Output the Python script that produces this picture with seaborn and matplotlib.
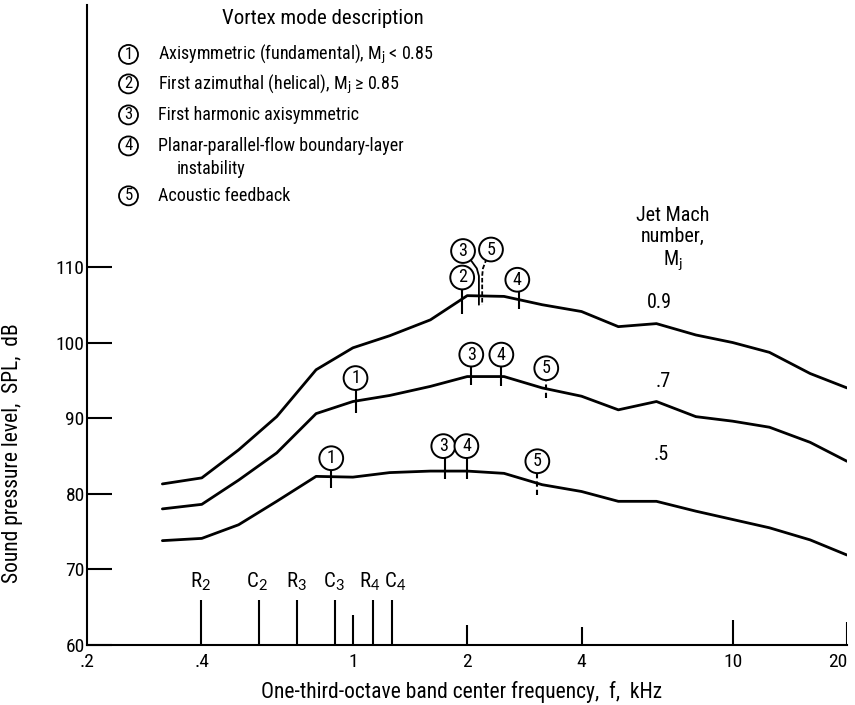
import matplotlib
matplotlib.use("Agg")
import matplotlib.pyplot as plt
import seaborn as sns
import pandas as pd

# one-third-octave band centres, kHz
bands = [0.315, 0.4, 0.5, 0.63, 0.8, 1.0, 1.25, 1.6, 2.0, 2.5, 3.15,
         4.0, 5.0, 6.3, 8.0, 10.0, 12.5, 16.0, 20.0]

# SPL per jet Mach number, dB
spl_09 = [81.3, 82.1, 85.8, 90.2, 96.4, 99.3, 100.9, 103.0, 106.2, 106.1, 105.0,
          104.1, 102.1, 102.5, 101.0, 100.0, 98.7, 95.9, 94.0]
spl_07 = [78.0, 78.6, 81.8, 85.4, 90.6, 92.2, 93.0, 94.2, 95.5, 95.5, 94.0,
          92.9, 91.1, 92.2, 90.2, 89.6, 88.8, 86.8, 84.3]
spl_05 = [73.8, 74.1, 75.9, 79.0, 82.3, 82.2, 82.8, 83.0, 83.0, 82.7, 81.2,
          80.3, 79.0, 79.0, 77.7, 76.6, 75.5, 73.9, 71.9]
mach_labels = ["0.9", ".7", ".5"]
mach_label_pos = [(6.42, 105.3), (6.55, 94.9), (6.48, 85.2)]

# vortex mode markers: label, tick freq, circle freq, circle SPL, tick top, tick bottom, dashed
mode_label = ["2", "4", "1", "3", "4", "5", "1", "3", "4", "5"]
mode_tick_f = [1.94, 2.73, 1.016, 2.05, 2.46, 3.23, 0.877, 1.75, 2.0, 3.06]
mode_circ_f = [1.94, 2.71, 1.016, 2.05, 2.46, 3.23, 0.877, 1.73, 1.99, 3.06]
mode_circ_y = [108.6, 108.3, 95.3, 98.4, 98.4, 96.6, 84.7, 86.3, 86.3, 84.3]
mode_top = [107.3, 107.0, 94.0, 97.1, 97.1, 95.3, 83.4, 85.0, 85.0, 83.2]
mode_bot = [103.8, 104.4, 90.7, 94.4, 94.2, 92.7, 80.7, 81.9, 81.9, 79.9]
mode_dash = [False, False, False, False, False, True, False, False, False, True]

# the two crowded modes at the 0.9 peak use bent leaders
lead_label = ["3", "5"]
lead_circ = [(1.95, 112.1), (2.31, 112.3)]
lead_f = [[2.03, 2.12, 2.147, 2.147], [2.25, 2.20, 2.19, 2.19]]
lead_y = [[111.1, 109.8, 108.8, 105.0], [111.1, 109.8, 108.8, 105.0]]
lead_dash = [False, True]

# resonance / cutoff frequency markers
rc_names = [r"R$_2$", r"C$_2$", r"R$_3$", r"C$_3$", r"R$_4$", r"C$_4$"]
rc_freq = [0.399, 0.565, 0.711, 0.897, 1.13, 1.265]
rc_top = 66.0
rc_label_f = [0.397, 0.56, 0.711, 0.89, 1.105, 1.29]
grid_f = [1.0, 2.0, 4.0, 10.0, 20.0]
grid_top = [64.0, 62.6, 62.4, 63.3, 63.0]

legend_title = "Vortex mode description"
legend_nums = ["1", "2", "3", "4", "5"]
legend_text = ["Axisymmetric (fundamental), M$_j$ < 0.85",
               "First azimuthal (helical), M$_j$ ≥ 0.85",
               "First harmonic axisymmetric",
               "Planar-parallel-flow boundary-layer",
               "Acoustic feedback"]
legend_y = [138.1, 134.2, 130.1, 126.0, 119.4]
legend_cont = "instability"
legend_cont_y = 123.0

xticks = [0.2, 0.4, 1, 2, 4, 10, 20]
xtick_labels = [".2", ".4", "1", "2", "4", "10", "20"]
yticks = [60, 70, 80, 90, 100, 110]

sns.set_style("ticks")
plt.rcParams["font.family"] = ["Liberation Sans Narrow", "Roboto Condensed", "Lato", "DejaVu Sans"]
plt.rcParams["mathtext.fontset"] = "custom"
plt.rcParams["mathtext.rm"] = "Lato"
plt.rcParams["mathtext.it"] = "Lato"
for k in ["text.color", "axes.labelcolor", "xtick.color", "ytick.color", "axes.edgecolor"]:
    plt.rcParams[k] = "black"

df = pd.DataFrame({
    "f": bands * 3,
    "spl": spl_09 + spl_07 + spl_05,
    "mach": ["0.9"] * len(bands) + ["0.7"] * len(bands) + ["0.5"] * len(bands),
})

fig = plt.figure(figsize=(8.55, 7.05), dpi=100)
ax = fig.add_axes([0.1023, 0.0851, 0.8883, 0.9085])

sns.lineplot(data=df, x="f", y="spl", hue="mach", palette=["black"] * 3,
             estimator=None, sort=False, linewidth=2.0, legend=False, ax=ax)

ax.set_xscale("log")
ax.set_xlim(0.2, 20)
ax.set_ylim(60, 144.7)
ax.set_xticks(xticks)
ax.set_xticklabels(xtick_labels)
ax.minorticks_off()
ax.set_yticks(yticks)
ax.tick_params(axis="x", length=0, pad=6, labelsize=14)
ax.tick_params(axis="y", direction="in", length=18, width=1.5, pad=2, labelsize=14)
ax.get_xticklabels()[-1].set_horizontalalignment("right")
sns.despine(ax=ax)
for s in ["left", "bottom"]:
    ax.spines[s].set_linewidth(1.5)

ax.set_xlabel("One-third-octave band center frequency,  f,  kHz", fontsize=15.5)
ax.set_ylabel("Sound pressure level,  SPL,  dB", fontsize=15.5)
ax.xaxis.set_label_coords(0.493, -0.056)
ax.yaxis.set_label_coords(-0.085, 0.30)

circ = dict(boxstyle="circle,pad=0.16", fc="white", ec="black", lw=1.4)

# mode markers on curves
for lab, tf, cf, cy, yt, yb, dash in zip(mode_label, mode_tick_f, mode_circ_f,
                                         mode_circ_y, mode_top, mode_bot, mode_dash):
    ax.vlines(tf, yb, yt, color="black", lw=1.5, linestyles=(0, (2.5, 1.5)) if dash else "solid")
    ax.text(cf, cy, lab, ha="center", va="center", fontsize=13, bbox=circ, zorder=5)

for lab, (cf, cy), lf, ly, dash in zip(lead_label, lead_circ, lead_f, lead_y, lead_dash):
    ax.plot(lf, ly, color="black", lw=1.3, ls=(0, (2.5, 1.2)) if dash else "-")
    ax.text(cf, cy, lab, ha="center", va="center", fontsize=13, bbox=circ, zorder=5)

# Mach number labels
ax.text(6.96, 113.7, "Jet Mach\nnumber,\nM$_j$", ha="center", va="center",
        fontsize=14.5, linespacing=1.15)
for lab, (mx, my) in zip(mach_labels, mach_label_pos):
    ax.text(mx, my, lab, ha="center", va="center", fontsize=14.5)

# R / C frequency markers
ax.vlines(rc_freq, 60, rc_top, color="black", lw=1.5)
ax.vlines(grid_f, 60, grid_top, color="black", lw=1.5)
for name, lf in zip(rc_names, rc_label_f):
    ax.text(lf, 68.3, name, ha="center", va="center", fontsize=15)

# mode description block
ax.text(0.834, 142.8, legend_title, ha="center", va="center", fontsize=15)
for num, txt, ly in zip(legend_nums, legend_text, legend_y):
    ax.text(0.2565, ly, num, ha="center", va="center", fontsize=12,
            bbox=dict(boxstyle="circle,pad=0.12", fc="white", ec="black", lw=1.3))
    ax.text(0.3076, ly, txt, ha="left", va="center", fontsize=13)
ax.text(0.343, legend_cont_y, legend_cont, ha="left", va="center", fontsize=13)

fig.savefig("out.png", dpi=100)
